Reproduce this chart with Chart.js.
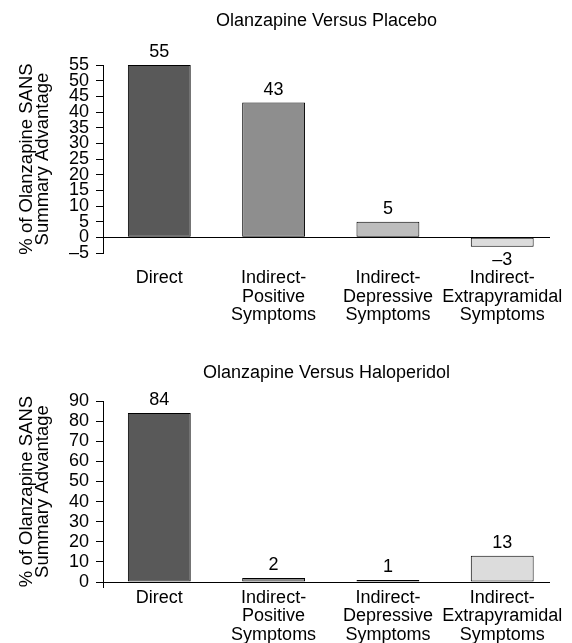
<!DOCTYPE html>
<html><head><meta charset="utf-8">
<script src="https://cdn.jsdelivr.net/npm/chart.js@4"></script>
<style>
html,body{margin:0;padding:0;background:#fff;}
#wrap{position:relative;width:572px;height:643px;overflow:hidden;background:#fff;}
canvas{position:absolute;left:0;}
</style></head><body>
<div id="wrap">
<canvas id="c1" width="572" height="330" style="top:0px"></canvas>
<canvas id="c2" width="572" height="313" style="top:330px"></canvas>
</div>
<script>
const categories = [
  ['Direct'],
  ['Indirect-', 'Positive', 'Symptoms'],
  ['Indirect-', 'Depressive', 'Symptoms'],
  ['Indirect-', 'Extrapyramidal', 'Symptoms']
];
const barColors = ['#595959', '#8e8e8e', '#bdbdbd', '#dcdcdc'];
const placeboValues = [55, 43, 5, -3];
const haloperidolValues = [84, 2, 1, 13];
const placeboTicks = [-5, 0, 5, 10, 15, 20, 25, 30, 35, 40, 45, 50, 55];
const haloperidolTicks = [0, 10, 20, 30, 40, 50, 60, 70, 80, 90];
const yTitle = ['% of Olanzapine SANS', 'Summary Advantage'];
const placeboTitle = 'Olanzapine Versus Placebo';
const haloperidolTitle = 'Olanzapine Versus Haloperidol';

const FONT = "'Liberation Sans', Arial, Helvetica, sans-serif";
const FS = 18;

function fmt(v) { return v < 0 ? '\u2013' + Math.abs(v) : String(v); }

const valueLabels = {
  id: 'valueLabels',
  afterDatasetsDraw(chart) {
    const ctx = chart.ctx;
    const ds = chart.data.datasets[0];
    const meta = chart.getDatasetMeta(0);
    ctx.save();
    ctx.font = FS + 'px ' + FONT;
    ctx.fillStyle = '#000';
    ctx.textAlign = 'center';
    ctx.textBaseline = 'middle';
    meta.data.forEach((bar, i) => {
      const v = ds.data[i].y;
      const y = v >= 0 ? bar.y - 13 : bar.y + 13;
      ctx.fillText(fmt(v), bar.x, y);
    });
    ctx.restore();
  }
};

const axisStub = {
  id: 'axisStub',
  afterDraw(chart, args, opts) {
    if (!opts || !opts.show) return;
    const ctx = chart.ctx;
    const a = chart.chartArea;
    const x = Math.round(a.left) + 0.5;
    ctx.save();
    ctx.strokeStyle = '#000';
    ctx.lineWidth = 1;
    ctx.beginPath();
    ctx.moveTo(x, a.bottom);
    ctx.lineTo(x, a.bottom + 6);
    ctx.stroke();
    ctx.restore();
  }
};

function makeChart(id, title, values, ticks, cfg) {
  return new Chart(document.getElementById(id), {
    type: 'bar',
    data: {
      datasets: [{
        data: values.map((v, i) => ({ x: i, y: v })),
        backgroundColor: barColors,
        borderColor: '#000',
        borderWidth: 1,
        borderSkipped: false,
        barPercentage: 0.55,
        categoryPercentage: 1
      }]
    },
    options: {
      responsive: false,
      animation: false,
      devicePixelRatio: 1,
      layout: { padding: { left: 0, right: 22, top: 0, bottom: 0 } },
      plugins: {
        legend: { display: false },
        tooltip: { enabled: false },
        title: {
          display: true,
          text: title,
          fullSize: false,
          color: '#000',
          font: { family: FONT, size: FS, weight: 'normal', lineHeight: 1.2 },
          padding: { top: cfg.titleTop, bottom: cfg.titleBottom }
        },
        axisStub: { show: cfg.stub }
      },
      scales: {
        x: {
          type: 'linear',
          min: -0.4926,
          max: 3.418,
          offset: false,
          afterBuildTicks: s => { s.ticks = categories.map((c, i) => ({ value: i })); },
          afterFit: s => { s.height = cfg.xHeight; s.paddingLeft = 0; s.paddingRight = 0; },
          ticks: {
            callback: v => categories[v],
            autoSkip: false,
            maxRotation: 0,
            minRotation: 0,
            padding: cfg.xPad,
            color: '#000',
            font: { family: FONT, size: FS, lineHeight: 18.5 / FS }
          },
          grid: { display: false, drawTicks: false, offset: false },
          border: { display: false }
        },
        y: {
          min: ticks[0],
          max: ticks[ticks.length - 1],
          afterBuildTicks: s => { s.ticks = ticks.map(v => ({ value: v })); },
          afterFit: s => { s.width = 103; s.paddingTop = 0; s.paddingBottom = 0; },
          ticks: {
            autoSkip: false,
            callback: v => fmt(v),
            padding: 7,
            color: '#000',
            font: { family: FONT, size: FS }
          },
          grid: {
            color: c => (c.tick && c.tick.value === 0) ? '#000' : 'rgba(0,0,0,0)',
            tickColor: '#000',
            tickLength: 7,
            lineWidth: 1,
            drawTicks: true
          },
          border: { display: true, color: '#000', width: 1 },
          title: {
            display: true,
            text: yTitle,
            color: '#000',
            font: { family: FONT, size: 18.5, lineHeight: 16 / 18.5 },
            padding: { top: 19, bottom: 0 }
          }
        }
      }
    },
    plugins: [valueLabels, axisStub]
  });
}

makeChart('c1', placeboTitle, placeboValues, placeboTicks,
  { titleTop: 10, titleBottom: 33.4, xHeight: 77, xPad: 16, stub: false });
makeChart('c2', haloperidolTitle, haloperidolValues, haloperidolTicks,
  { titleTop: 32, titleBottom: 17.4, xHeight: 61, xPad: 6.5, stub: true });
</script>
</body></html>
